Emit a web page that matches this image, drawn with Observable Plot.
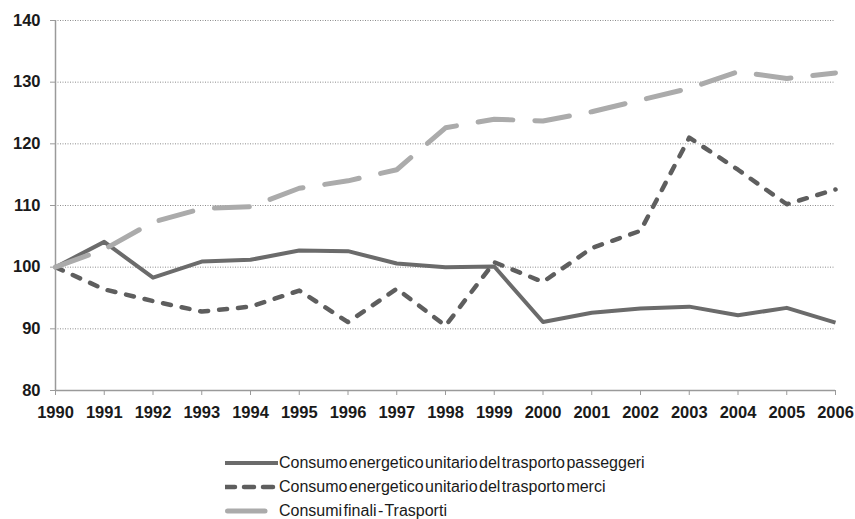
<!DOCTYPE html>
<html><head><meta charset="utf-8">
<script src="https://cdn.jsdelivr.net/npm/d3@7"></script>
<script src="https://cdn.jsdelivr.net/npm/@observablehq/plot@0.6"></script>
<style>
body{margin:0;background:#fff;font-family:"Liberation Sans",Arial,sans-serif}
#wrap{position:relative;width:855px;height:519px}
#legend{position:absolute;left:225px;top:451px;font-size:16px;color:#1a1a1a;word-spacing:-3px;line-height:16px}
#legend .row{display:flex;align-items:center;height:24px}
#legend svg{display:block;margin-right:1px}
</style>
</head><body><div id="wrap"><div id="chart"></div><div id="legend"></div></div>
<script>
const years = [1990,1991,1992,1993,1994,1995,1996,1997,1998,1999,2000,2001,2002,2003,2004,2005,2006];
const passeggeri = [100,104.1,98.3,100.9,101.2,102.7,102.6,100.6,100.0,100.1,91.1,92.6,93.3,93.6,92.2,93.4,91.0];
const merci = [100,96.4,94.5,92.8,93.6,96.2,91.1,96.5,90.5,100.8,97.6,103.1,105.9,121.0,115.8,110.2,112.6];
const consumi = [100,102.9,107.3,109.5,109.8,112.8,114.0,115.8,122.6,124.0,123.7,125.2,127.1,129.0,131.7,130.6,131.5];
const yTicks = [80,90,100,110,120,130,140];
const seriesNames = [
  "Consumo energetico unitario del trasporto passeggeri",
  "Consumo energetico unitario del trasporto merci",
  "Consumi finali - Trasporti"
];

const rows = s => years.map((y,i)=>({year:y, value:s[i]}));
const styles = [
  {stroke:"#6b6b6b", strokeWidth:4, strokeDasharray:null, linecap:"butt"},
  {stroke:"#5e5e5e", strokeWidth:4.5, strokeDasharray:"8,11", linecap:"round"},
  {stroke:"#ababab", strokeWidth:5, strokeDasharray:"35,22", linecap:"round"}
];
const data = [passeggeri, merci, consumi];

const plot = Plot.plot({
  width:855, height:440,
  marginTop:20, marginBottom:50, marginLeft:55, marginRight:20,
  style:{fontFamily:"'Liberation Sans', Arial, sans-serif", background:"#fff", overflow:"visible"},
  x:{domain:[1990,2006], type:"linear"},
  y:{domain:[80,140]},
  marks:[
    Plot.ruleY(yTicks.filter(t=>t>80), {stroke:"#8c8c8c", strokeWidth:1, strokeDasharray:"1,1.5"}),
    Plot.ruleX([1990], {stroke:"#9a9a9a", strokeWidth:1.5}),
    Plot.ruleY([80], {stroke:"#9a9a9a", strokeWidth:1.5}),
    Plot.axisY({ticks:yTicks, tickSize:5, tickPadding:10, fontSize:16.5, fontWeight:"bold", stroke:"#9a9a9a", fill:"#1a1a1a", label:null}),
    Plot.axisX({ticks:years, tickFormat:"d", tickSize:5, tickPadding:11, fontSize:16.5, fontWeight:"bold", stroke:"#9a9a9a", fill:"#1a1a1a", label:null}),
    ...data.map((s,i)=>Plot.lineY(rows(s), {x:"year", y:"value", stroke:styles[i].stroke, strokeWidth:styles[i].strokeWidth, strokeDasharray:styles[i].strokeDasharray, strokeLinecap:styles[i].linecap, strokeLinejoin:"round"}))
  ]
});
document.getElementById("chart").appendChild(plot);

const legend = d3.select("#legend");
seriesNames.forEach((name,i)=>{
  const row = legend.append("div").attr("class","row");
  const svg = row.append("svg").attr("width",53).attr("height",10);
  const st = styles[i];
  svg.append("line").attr("x1", i===2?2.5:0).attr("x2", i===2?40:53).attr("y1",5).attr("y2",5)
    .attr("stroke",st.stroke).attr("stroke-width",st.strokeWidth)
    .attr("stroke-dasharray", i===1?"10,9":null)
    .attr("stroke-linecap", i===0?"butt":"round");
  row.append("span").text(name);
});
</script>
</body></html>
